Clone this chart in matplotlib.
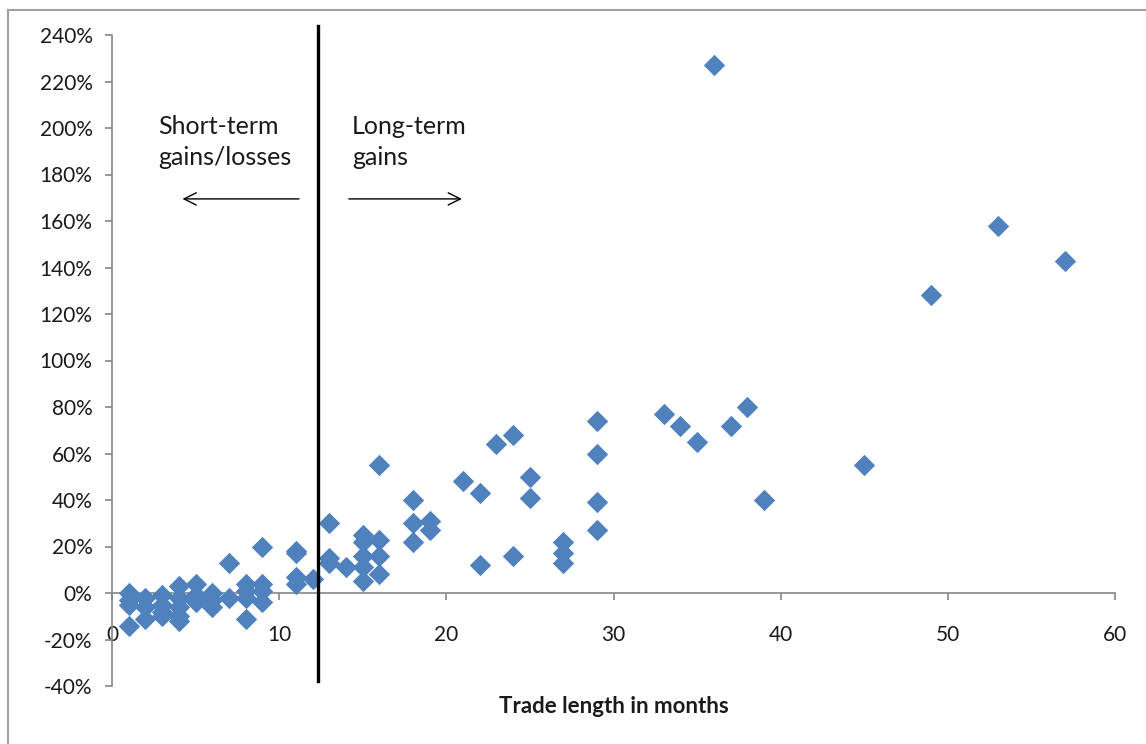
import matplotlib
matplotlib.use("Agg")
import matplotlib.pyplot as plt
from matplotlib.patches import Rectangle
from matplotlib.ticker import FuncFormatter

plt.rcParams['font.family'] = ['Lato', 'DejaVu Sans']

# Trade length (months) and return (%)
months = [1, 1, 1, 1,
          2, 2, 2,
          3, 3, 3, 3,
          4, 4, 4, 4, 4,
          5, 5, 5,
          6, 6, 6,
          7, 7,
          8, 8, 8, 8,
          9, 9, 9, 9,
          11, 11, 11, 11,
          12,
          13, 13, 13,
          14,
          15, 15, 15, 15, 15,
          16, 16, 16, 16,
          18, 18, 18,
          19, 19,
          21,
          22, 22,
          23,
          24, 24,
          25, 25,
          27, 27, 27,
          29, 29, 29, 29,
          33, 34, 35, 36, 37, 38, 39, 45, 49, 53, 57]
returns = [0, -3, -5, -14,
           -2, -6, -11,
           -1, -5, -8, -10,
           3, -2, -6, -10, -12,
           4, -1, -4,
           0, -3, -6,
           13, -2,
           4, 1, -2, -11,
           20, 4, 1, -4,
           18, 17, 7, 4,
           6,
           30, 15, 13,
           11,
           25, 22, 16, 11, 5,
           55, 23, 16, 8,
           40, 30, 22,
           31, 27,
           48,
           43, 12,
           64,
           68, 16,
           50, 41,
           22, 17, 13,
           74, 60, 39, 27,
           77, 72, 65, 227, 72, 80, 40, 55, 128, 158, 143]

x_ticks = [0, 10, 20, 30, 40, 50, 60]
y_ticks = list(range(-40, 241, 20))
x_label = "Trade length in months"
left_text = "Short-term\ngains/losses"
right_text = "Long-term\ngains"
divider_x = 12.3

fig = plt.figure(figsize=(11.46, 7.44), dpi=100)
ax = fig.add_axes([112/1146, 1-686/744, (1115-112)/1146, (686-35)/744])

ax.scatter(months, returns, marker='D', s=118, color='#4F81BD', linewidths=0, zorder=3)

ax.set_xlim(0, 60)
ax.set_ylim(-40, 240)
ax.set_xticks(x_ticks)
ax.set_yticks(y_ticks)
ax.yaxis.set_major_formatter(FuncFormatter(lambda v, p: f"{int(round(v))}%"))

for s in ['top', 'right']:
    ax.spines[s].set_visible(False)
ax.spines['bottom'].set_position(('data', 0))
for s in ['left', 'bottom']:
    ax.spines[s].set_color('#868686')
    ax.spines[s].set_linewidth(1.2)

ax.tick_params(axis='both', colors='#868686', labelcolor='#1a1a1a', labelsize=15,
               direction='out', length=5, width=1.2)
ax.tick_params(axis='x', pad=18)
ax.tick_params(axis='y', pad=9)

ax.set_xlabel(x_label, fontsize=16, fontweight='bold', color='#1a1a1a', labelpad=0)
ax.xaxis.set_label_coords(0.5, -0.015)

# divider line
ax.plot([divider_x, divider_x], [244, -38], color='black', lw=2.4, zorder=5, clip_on=False)

# arrows
ax.annotate('', xy=(4.05, 169.5), xytext=(11.35, 169.5),
            arrowprops=dict(arrowstyle='->', color='black', lw=1.0, mutation_scale=22))
ax.annotate('', xy=(21.1, 169.5), xytext=(14.0, 169.5),
            arrowprops=dict(arrowstyle='->', color='black', lw=1.0, mutation_scale=22))

ax.text(2.75, 194, left_text, fontsize=18, color='#1a1a1a', va='center', ha='left', linespacing=1.4)
ax.text(14.35, 194, right_text, fontsize=18, color='#1a1a1a', va='center', ha='left', linespacing=1.4)

# figure border
fig.patches.append(Rectangle((8/1146, -0.1), 1.2, 1.1 - 10/744, transform=fig.transFigure,
                             fill=False, edgecolor='#a0a0a0', lw=1.5))

fig.savefig('out.png', dpi=100)
